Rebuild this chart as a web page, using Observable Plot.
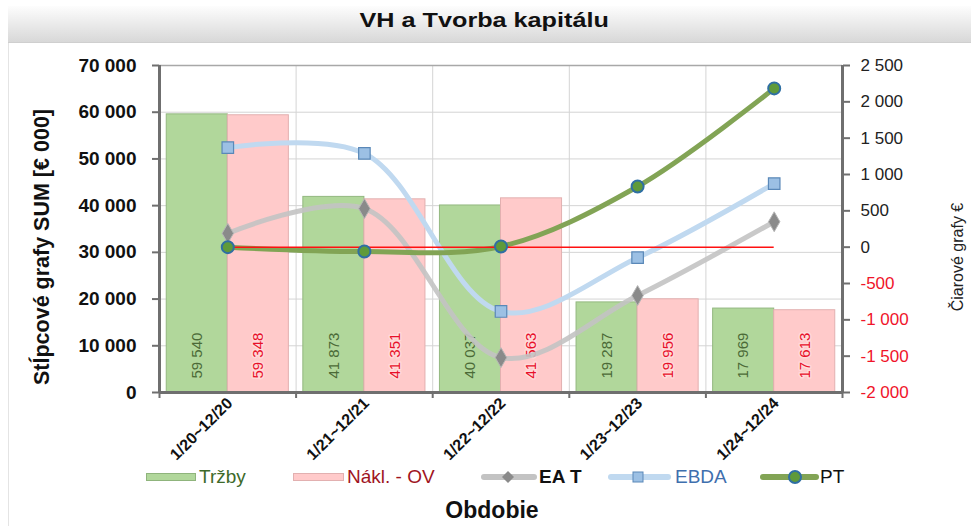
<!DOCTYPE html>
<html><head><meta charset="utf-8">
<script src="https://cdn.jsdelivr.net/npm/d3@7"></script>
<script src="https://cdn.jsdelivr.net/npm/@observablehq/plot@0.6"></script>
<style>
html,body{margin:0;padding:0;background:#fff;}
#wrap{position:relative;width:971px;height:532px;overflow:hidden;font-family:"Liberation Sans",Arial,sans-serif;background:#fff;}
#titlebar{position:absolute;left:8px;top:6px;width:963px;height:36px;background:linear-gradient(#fdfdfd,#d8d8d8);border-bottom:1px solid #cfcfcf;}
#title{position:absolute;left:0;top:8px;width:971px;text-align:center;font-weight:bold;font-size:21px;color:#111;transform:scaleX(1.2);transform-origin:492px 0;}
#frameL{position:absolute;left:8px;top:6px;width:1px;height:520px;background:#e4e4e4;}
#chart{position:absolute;left:0;top:0;}
.ytitle{position:absolute;white-space:nowrap;transform-origin:center center;}
#ylab{left:42px;top:247px;font-weight:bold;font-size:21.5px;color:#111;transform:translate(-50%,-50%) rotate(-90deg);}
#yrlab{left:958px;top:257px;font-size:16px;color:#222;transform:translate(-50%,-50%) rotate(-90deg);}
#legend{position:absolute;left:0;top:464px;width:971px;height:26px;font-size:19px;}
.sw{position:absolute;top:0;}
.lt{position:absolute;top:2px;white-space:nowrap;}
#xlab{position:absolute;left:0;top:497px;width:984px;text-align:center;font-weight:bold;font-size:23px;color:#111;}
</style></head>
<body>
<div id="wrap">
  <div id="frameL"></div>
  <div id="titlebar"></div>
  <div id="title">VH a Tvorba kapitálu</div>
  <div id="chart"></div>
  <div class="ytitle" id="ylab">Stĺpcové grafy SUM [€ 000]</div>
  <div class="ytitle" id="yrlab">Čiarové grafy €</div>
  <div id="legend"></div>
  <div id="xlab">Obdobie</div>
</div>
<script>
// ---- data ----
const periods = ["1/20~12/20", "1/21~12/21", "1/22~12/22", "1/23~12/23", "1/24~12/24"];
const trzby   = [59540, 41873, 40037, 19287, 17969];
const naklady = [59348, 41351, 41563, 19956, 17613];
const eat     = [190, 530, -1520, -665, 350];
const ebda    = [1370, 1290, -885, -145, 875];
const pt      = [0, -60, 10, 835, 2185];
const leftTicks  = [0, 10000, 20000, 30000, 40000, 50000, 60000, 70000];
const rightTicks = [-2000, -1500, -1000, -500, 0, 500, 1000, 1500, 2000, 2500];
const seriesNames = ["Tržby", "Nákl. - OV", "EA T", "EBDA", "PT"];

// ---- helpers ----
const R_MIN = -2000, R_MAX = 2500, L_MAX = 70000;
const toL = v => (v - R_MIN) / (R_MAX - R_MIN) * L_MAX;
const fromL = v => Math.round(v / L_MAX * (R_MAX - R_MIN) + R_MIN);
const fmt = v => (v < 0 ? "-" : "") + d3.format(",")(Math.abs(v)).replace(/,/g, " ");
const rows = periods.map((p, i) => ({i, p, trzby: trzby[i], naklady: naklady[i], eat: eat[i], ebda: ebda[i], pt: pt[i]}));
const BW = 0.447;
const boundaries = d3.range(-0.5, 4.51, 1);

const axisCol = "#6f6f6f";
const chart = Plot.plot({
  width: 971, height: 470,
  marginTop: 65, marginBottom: 78, marginLeft: 159, marginRight: 129,
  x: {type: "linear", domain: [-0.5, 4.5], axis: null},
  y: {domain: [0, L_MAX], axis: null},
  style: {fontFamily: "'Liberation Sans', Arial, sans-serif", background: "transparent", overflow: "visible"},
  marks: [
    Plot.gridY(leftTicks.slice(1), {stroke: "#d4d4d4", strokeOpacity: 1}),
    Plot.gridX(boundaries.slice(1, -1), {stroke: "#d4d4d4", strokeOpacity: 1}),
    Plot.ruleY([L_MAX], {stroke: "#a8a8a8", strokeWidth: 1.5}),
    // bars
    Plot.rectY(rows, {x1: d => d.i - BW, x2: d => d.i, y1: 0, y2: "trzby", fill: "#b1d79b", stroke: "#93b880", strokeWidth: 1}),
    Plot.rectY(rows, {x1: d => d.i, x2: d => d.i + BW, y1: 0, y2: "naklady", fill: "#ffcaca", stroke: "#e2b0b0", strokeWidth: 1}),
    Plot.text(rows, {x: d => d.i - BW / 2, y: 0, text: d => fmt(d.trzby), rotate: -90, textAnchor: "start", dy: -14, fill: "#4b6a37", fontSize: 15}),
    Plot.text(rows, {x: d => d.i + BW / 2, y: 0, text: d => fmt(d.naklady), rotate: -90, textAnchor: "start", dy: -14, fill: "#e8102a", fontSize: 15, stroke: "#ffd9d9", strokeWidth: 3, paintOrder: "stroke"}),
    // lines
    Plot.line(rows, {x: "i", y: d => toL(d.eat), curve: "catmull-rom", stroke: "#c3c3c3", strokeWidth: 5, strokeOpacity: 0.9}),
    Plot.line(rows, {x: "i", y: d => toL(d.ebda), curve: "catmull-rom", stroke: "#c0d9f0", strokeWidth: 5}),
    Plot.line(rows, {x: "i", y: d => toL(d.pt), curve: "catmull-rom", stroke: "#82a455", strokeWidth: 5}),
    Plot.ruleY([toL(0)], {x1: 0, x2: 4, stroke: "#ff1010", strokeWidth: 1.5}),
    Plot.dot(rows, {x: "i", y: d => toL(d.eat), symbol: "diamond", r: 6, fill: "#8a8a8a", stroke: "#b5b5b5", strokeWidth: 1}),
    Plot.dot(rows, {x: "i", y: d => toL(d.ebda), symbol: "square", r: 6.5, fill: "#9cc0e4", stroke: "#5a88b8", strokeWidth: 1.2}),
    Plot.dot(rows, {x: "i", y: d => toL(d.pt), r: 6, fill: "#5f9a3a", stroke: "#2f6fa3", strokeWidth: 2}),
    // axes
    Plot.axisY({ticks: leftTicks, anchor: "left", tickSize: 7, tickPadding: 16, tickFormat: fmt, stroke: axisCol, strokeWidth: 2, fontSize: 19, fontWeight: "bold", fill: "#111", label: null}),
    Plot.axisY(rightTicks.filter(v => v >= 0).map(toL), {anchor: "right", tickSize: 7, tickPadding: 11, tickFormat: v => fmt(fromL(v)), stroke: axisCol, strokeWidth: 2, fontSize: 17, fill: "#222", label: null}),
    Plot.axisY(rightTicks.filter(v => v < 0).map(toL), {anchor: "right", tickSize: 7, tickPadding: 11, tickFormat: v => fmt(fromL(v)), stroke: axisCol, strokeWidth: 2, fontSize: 17, fill: "#f0142a", label: null}),
    Plot.axisX({ticks: boundaries, tickSize: 6, tickFormat: () => "", stroke: axisCol, strokeWidth: 2, label: null}),
    Plot.axisX({ticks: [0, 1, 2, 3, 4], tickSize: 0, tickPadding: 8, tickRotate: -45, tickFormat: i => periods[i], fontSize: 16, fontWeight: "bold", fill: "#111", dx: 2, label: null}),
    Plot.ruleX([-0.5, 4.5], {stroke: axisCol, strokeWidth: 3}),
    Plot.ruleY([0], {stroke: axisCol, strokeWidth: 3})
  ]
});
document.getElementById("chart").appendChild(chart);

// ---- legend ----
const lg = document.getElementById("legend");
const items = [
  {name: seriesNames[0], sx: 146, sw: 50, tx: 199, color: "#3e6a2a", bold: false,
   svg: w => `<rect x="0.5" y="9.5" width="${w - 1}" height="7" fill="#b1d79b" stroke="#8fb47c"/>`},
  {name: seriesNames[1], sx: 293, sw: 51, tx: 347, color: "#a0141e", bold: false,
   svg: w => `<rect x="0.5" y="9.5" width="${w - 1}" height="7" fill="#ffcaca" stroke="#e2b0b0"/>`},
  {name: seriesNames[2], sx: 481, sw: 56, tx: 539, color: "#111", bold: true,
   svg: w => `<line x1="3" x2="${w - 3}" y1="13" y2="13" stroke="#c3c3c3" stroke-width="6" stroke-linecap="round"/><path d="M27 7 L33 13 L27 19 L21 13Z" fill="#8a8a8a"/>`},
  {name: seriesNames[3], sx: 608, sw: 63, tx: 675, color: "#3f6fae", bold: false,
   svg: w => `<line x1="3" x2="${w - 3}" y1="13" y2="13" stroke="#c0d9f0" stroke-width="6" stroke-linecap="round"/><rect x="25" y="8" width="10" height="10" fill="#9cc0e4" stroke="#5a88b8"/>`},
  {name: seriesNames[4], sx: 760, sw: 59, tx: 820, color: "#111", bold: false,
   svg: w => `<line x1="3" x2="${w - 3}" y1="13" y2="13" stroke="#82a455" stroke-width="6" stroke-linecap="round"/><circle cx="35" cy="13" r="6" fill="#5f9a3a" stroke="#2f6fa3" stroke-width="2"/>`}
];
items.forEach(it => {
  const s = document.createElement("div");
  s.className = "sw";
  s.style.left = it.sx + "px";
  s.innerHTML = `<svg width="${it.sw}" height="26">${it.svg(it.sw)}</svg>`;
  lg.appendChild(s);
  const t = document.createElement("div");
  t.className = "lt";
  t.style.left = it.tx + "px";
  t.style.color = it.color;
  if (it.bold) t.style.fontWeight = "bold";
  t.textContent = it.name;
  lg.appendChild(t);
});
</script>
</body></html>
